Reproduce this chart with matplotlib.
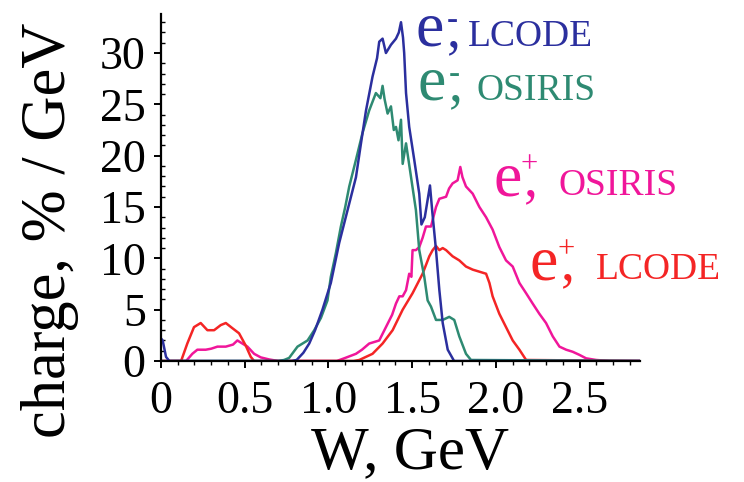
import matplotlib
matplotlib.use("Agg")
import matplotlib.pyplot as plt
from matplotlib.ticker import MultipleLocator, FixedLocator

plt.rcParams['font.family'] = ['Liberation Serif', 'DejaVu Serif']

# e-, LCODE
w_el = [0, 0.01, 0.03, 0.05, 0.78, 0.81, 0.85, 0.885, 0.92, 0.964, 1.014, 1.064, 1.114, 1.164,
        1.194, 1.224, 1.263, 1.29, 1.303, 1.323, 1.343, 1.373, 1.403, 1.42, 1.433, 1.445, 1.452,
        1.463, 1.482, 1.512, 1.542, 1.555, 1.575, 1.59, 1.606, 1.62, 1.642, 1.662, 1.682, 1.712,
        1.75, 2.86]
q_el = [2.2, 2.0, 0.4, 0, 0, 0.1, 0.8, 1.7, 3.0, 5.0, 7.6, 11.5, 14.7, 17.9,
        21.2, 24.4, 27.7, 29.5, 31.1, 31.4, 30.0, 30.8, 31.4, 32.0, 33.0, 31.5, 30.0,
        26.1, 22.8, 19.6, 16.3, 13.3, 14.0, 15.5, 17.1, 14.5, 10.8, 6.9, 3.7, 1.1,
        0.0, 0.0]

# e-, OSIRIS
w_eo = [0, 0.7, 0.735, 0.765, 0.815, 0.845, 0.875, 0.915, 0.955, 0.994, 1.014, 1.044, 1.074,
        1.1, 1.124, 1.164, 1.203, 1.243, 1.283, 1.31, 1.323, 1.335, 1.353, 1.373, 1.39, 1.403,
        1.418, 1.433, 1.443, 1.463, 1.493, 1.522, 1.542, 1.572, 1.592, 1.612, 1.642, 1.682,
        1.721, 1.751, 1.781, 1.821, 1.851, 2.86]
q_eo = [0, 0, 0.1, 0.3, 1.4, 1.7, 2.0, 3.0, 4.2, 5.9, 8.2, 10.5, 13.1,
        15.0, 17.0, 19.6, 22.2, 24.4, 26.1, 25.6, 26.8, 25.5, 24.1, 24.8, 22.5, 22.8,
        21.5, 23.5, 19.2, 21.2, 17.9, 14.7, 10.8, 8.2, 5.9, 5.3, 4.0, 4.0,
        4.3, 4.0, 2.4, 0.7, 0.1, 0]

# e+, OSIRIS
w_po = [0, 0.15, 0.187, 0.217, 0.267, 0.3, 0.337, 0.387, 0.43, 0.456, 0.486, 0.516, 0.556,
        0.596, 0.646, 0.7, 1.05, 1.1, 1.164, 1.2, 1.243, 1.303, 1.343, 1.38, 1.403, 1.423,
        1.443, 1.463, 1.482, 1.495, 1.502, 1.522, 1.542, 1.562, 1.582, 1.612, 1.642, 1.662,
        1.702, 1.72, 1.741, 1.771, 1.787, 1.80, 1.821, 1.861, 1.901, 1.941, 1.98, 2.02, 2.06,
        2.1, 2.14, 2.18, 2.219, 2.259, 2.299, 2.339, 2.379, 2.419, 2.458, 2.498, 2.538,
        2.598, 2.678, 2.86]
q_po = [0, 0, 0.7, 1.1, 1.1, 1.2, 1.4, 1.4, 1.6, 2.0, 1.7, 1.4, 0.7,
        0.35, 0.15, 0, 0, 0.3, 0.7, 1.1, 1.7, 2.0, 3.3, 4.5, 5.6, 6.3,
        6.3, 6.9, 8.5, 8.2, 10.8, 10.8, 11.1, 12.0, 13.1, 13.1, 15.0, 15.8,
        16.0, 16.8, 17.3, 17.6, 18.9, 17.9, 17.0, 16.3, 15.0, 14.0, 12.8, 11.1, 9.8,
        9.2, 7.6, 6.6, 5.6, 4.6, 3.7, 2.4, 1.4, 1.1, 0.9, 0.6, 0.26,
        0.1, 0, 0]

# e+, LCODE
w_pl = [0, 0.12, 0.157, 0.197, 0.237, 0.277, 0.317, 0.357, 0.387, 0.426, 0.466, 0.506, 0.536,
        0.556, 1.15, 1.184, 1.263, 1.323, 1.383, 1.443, 1.502, 1.562, 1.602, 1.622, 1.642,
        1.662, 1.682, 1.702, 1.741, 1.781, 1.821, 1.861, 1.901, 1.941, 1.961, 1.98, 2.02,
        2.06, 2.1, 2.14, 2.18, 2.86]
q_pl = [0, 0, 1.7, 3.3, 3.7, 3.0, 3.0, 3.5, 3.7, 3.2, 2.7, 1.5, 0.4,
        0, 0, 0.1, 0.7, 1.7, 3.0, 5.0, 6.6, 8.5, 10.2, 10.8, 11.2,
        10.8, 11.0, 10.8, 10.2, 9.8, 9.2, 8.9, 8.7, 8.5, 7.6, 6.3, 4.6,
        3.3, 2.0, 1.1, 0.1, 0]

x_ticks = [0, 0.5, 1.0, 1.5, 2.0, 2.5]
x_ticklabels = ["0", "0.5", "1.0", "1.5", "2.0", "2.5"]
y_ticks = [0, 5, 10, 15, 20, 25, 30]

C_BLUE = "#2b2f9e"
C_TEAL = "#2e8a72"
C_MAG = "#f0169a"
C_RED = "#f42525"

W, H = 744, 482
fig = plt.figure(figsize=(W / 100, H / 100), dpi=100)
ax = fig.add_axes([161 / W, 1 - 361 / H, (640 - 161) / W, (361 - 14) / H])

lw = 1.8
ax.plot(w_po, q_po, color=C_MAG, lw=lw)
ax.plot(w_pl, q_pl, color=C_RED, lw=lw)
ax.plot(w_eo, q_eo, color=C_TEAL, lw=lw)
ax.plot(w_el, q_el, color=C_BLUE, lw=lw)

ax.set_xlim(0, 2.86)
ax.set_ylim(0, 33.8)
ax.spines['top'].set_visible(False)
ax.spines['right'].set_visible(False)
for s in ('left', 'bottom'):
    ax.spines[s].set_linewidth(1.6)

ax.xaxis.set_major_locator(FixedLocator(x_ticks))
ax.set_xticklabels(x_ticklabels)
ax.xaxis.set_minor_locator(MultipleLocator(0.1))
ax.yaxis.set_major_locator(FixedLocator(y_ticks))
ax.yaxis.set_minor_locator(MultipleLocator(1))

ax.tick_params(axis='x', which='major', direction='out', length=5, width=1.4,
               labelsize=33, pad=9)
ax.tick_params(axis='x', which='minor', direction='out', length=3, width=1.0)
ax.tick_params(axis='y', which='major', direction='out', length=5, width=1.4,
               labelsize=33, pad=6)
ax.tick_params(axis='y', which='minor', direction='in', length=3, width=1.0)

fig.text(410 / W, 1 - 468 / H, "W, GeV", fontsize=44, ha='center', va='baseline')
fig.text(50 / W, 1 - 230 / H, "charge, % / GeV", fontsize=45, rotation=90,
         ha='center', va='center')


def px(x, y):
    return x / W, 1 - y / H


def label(x_e, base, sign, sign_y, name, x_name, color, sign_size):
    fig.text(*px(x_e, base), "e", fontsize=46, color=color, ha='left', va='baseline')
    fig.text(*px(x_e + 31, base), ",", fontsize=40, color=color, ha='left', va='baseline')
    fig.text(*px(x_e + 36, sign_y), sign, fontsize=sign_size, color=color,
             ha='center', va='center', fontweight='bold' if sign == "-" else 'normal')
    fig.text(*px(x_name, base), name, fontsize=27, color=color, ha='left', va='baseline')


label(416, 46, "-", 21, "LCODE", 468, C_BLUE, 24)
label(418, 100, "-", 74, "OSIRIS", 476, C_TEAL, 24)
label(493, 195, "+", 165, "OSIRIS", 559, C_MAG, 22)
label(530, 279, "+", 250, "LCODE", 596, C_RED, 22)

fig.savefig("out.png", dpi=100)
